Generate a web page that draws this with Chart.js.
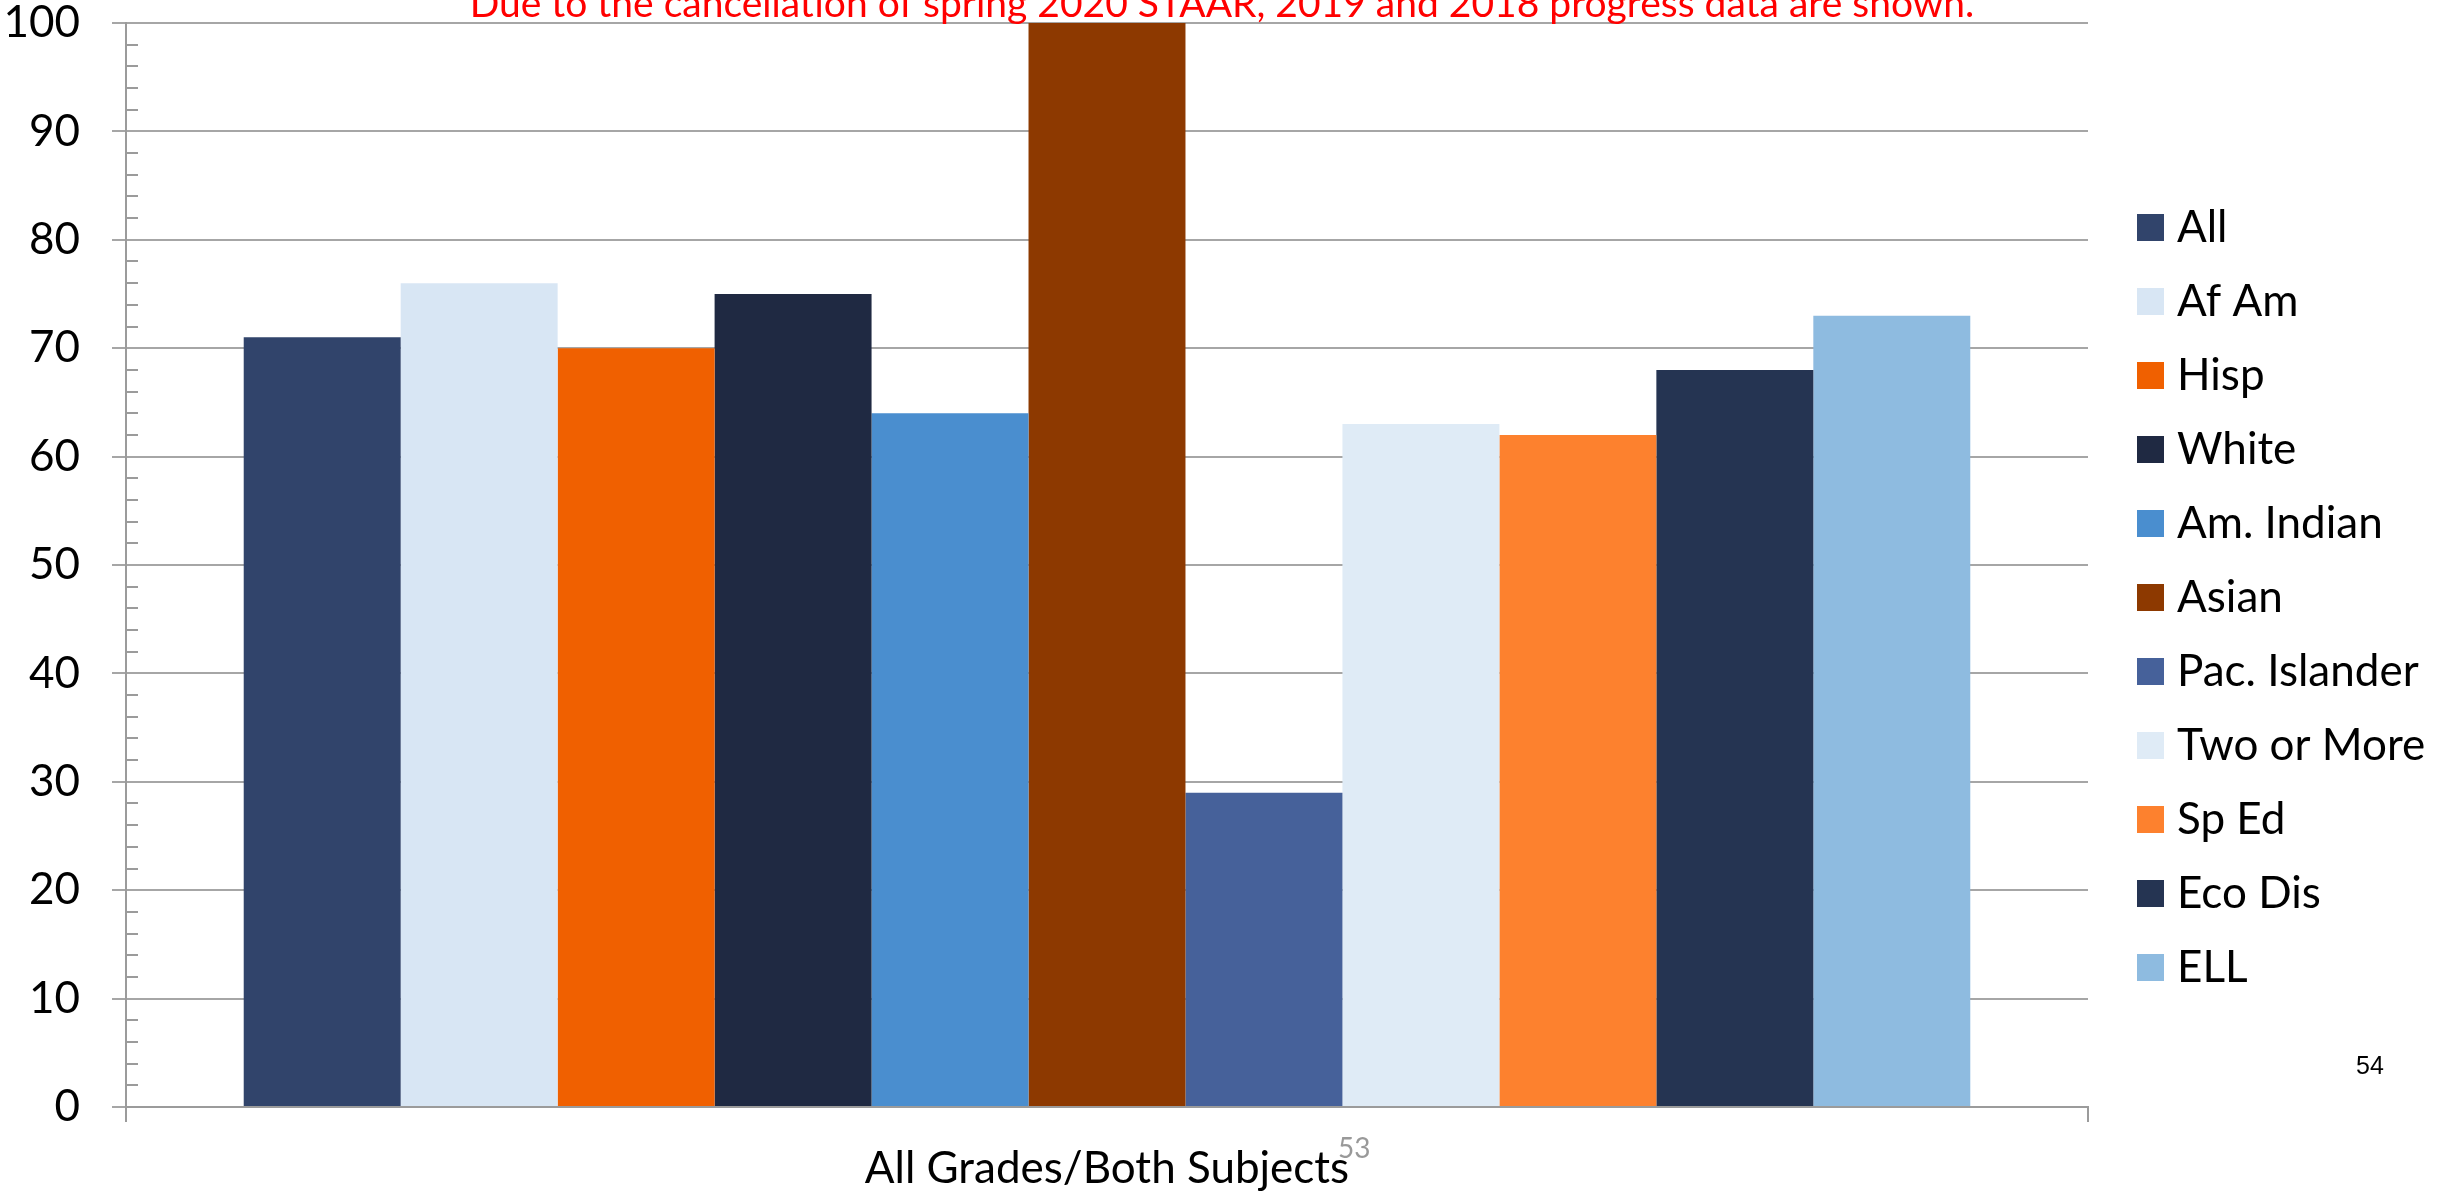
<!DOCTYPE html>
<html>
<head>
<meta charset="utf-8">
<script src="https://cdn.jsdelivr.net/npm/chart.js@4/dist/chart.umd.min.js"></script>
<style>
  html, body { margin: 0; padding: 0; background: #ffffff; }
  #wrap { width: 2453px; height: 1192px; position: relative; }
</style>
</head>
<body>
<div id="wrap"><canvas id="c" width="2453" height="1192"></canvas></div>
<script>
const categories = ["All Grades/Both Subjects"];
const seriesNames = ["All", "Af Am", "Hisp", "White", "Am. Indian", "Asian", "Pac. Islander", "Two or More", "Sp Ed", "Eco Dis", "ELL"];
const seriesValues = [71, 76, 70, 75, 64, 100, 29, 63, 62, 68, 73];
const seriesColors = ["#31446B", "#D8E6F4", "#F06000", "#1F2942", "#4A8ECF", "#8D3900", "#46619A", "#DFEBF6", "#FD812E", "#253452", "#8EBBE0"];
const yTicks = [0, 10, 20, 30, 40, 50, 60, 70, 80, 90, 100];
const noteText = "Due to the cancellation of spring 2020 STAAR, 2019 and 2018 progress data are shown.";
const slideNumA = "53";
const slideNumB = "54";

const datasets = seriesNames.map((name, i) => ({
  label: name,
  data: [seriesValues[i]],
  backgroundColor: seriesColors[i],
  borderWidth: 0,
  barPercentage: 1.0,
  categoryPercentage: 0.88
}));

const overlayPlugin = {
  id: 'overlay',
  afterDatasetsDraw(chart) {
    const ctx = chart.ctx;
    const y = chart.scales.y;
    const area = chart.chartArea;
    ctx.save();
    ctx.strokeStyle = '#9b9b9b';
    ctx.lineWidth = 2;
    for (let v = 0; v <= 100; v += 2) {
      if (v % 10 === 0) continue;
      const py = Math.round(y.getPixelForValue(v));
      ctx.beginPath();
      ctx.moveTo(area.left, py);
      ctx.lineTo(area.left + 12, py);
      ctx.stroke();
    }
    ctx.restore();
  },
  afterDraw(chart) {
    const ctx = chart.ctx;
    ctx.save();
    ctx.fillStyle = '#FF0000';
    ctx.font = '39px Lato';
    ctx.textAlign = 'center';
    ctx.textBaseline = 'alphabetic';
    ctx.fillText(noteText, 1222, 17);
    const ds = chart.data.datasets;
    const x0 = 2137, y0 = 227, step = 74;
    ds.forEach((d, i) => {
      const cy = y0 + i * step;
      ctx.fillStyle = d.backgroundColor;
      ctx.fillRect(x0, Math.round(cy - 13.5), 27, 27);
      ctx.fillStyle = '#000000';
      ctx.font = '44px Lato';
      ctx.textAlign = 'left';
      ctx.textBaseline = 'middle';
      ctx.fillText(d.label, 2177, cy + 1);
    });
    ctx.fillStyle = '#999999';
    ctx.font = '28px Lato';
    ctx.textAlign = 'left';
    ctx.textBaseline = 'alphabetic';
    ctx.fillText(slideNumA, 1338, 1158);
    ctx.fillStyle = '#000000';
    ctx.font = '25px "Liberation Sans"';
    ctx.fillText(slideNumB, 2356, 1074);
    ctx.restore();
  }
};

new Chart(document.getElementById('c'), {
  type: 'bar',
  data: { labels: categories, datasets: datasets },
  options: {
    responsive: false,
    animation: false,
    devicePixelRatio: 1,
    layout: { padding: { left: 0, top: 23, right: 365, bottom: 0 } },
    plugins: { legend: { display: false }, title: { display: false }, tooltip: { enabled: false } },
    scales: {
      x: {
        offset: true,
        grid: { display: true, drawOnChartArea: false, offset: true, tickLength: 15, color: '#9b9b9b', lineWidth: 2 },
        border: { display: true, color: '#9b9b9b', width: 2 },
        ticks: { color: '#000000', font: { family: 'Lato', size: 44 }, padding: 20 },
        afterFit(scale) { scale.height = 85; scale.paddingLeft = 0; scale.paddingRight = 0; }
      },
      y: {
        min: 0, max: 100,
        afterBuildTicks(scale) { scale.ticks = yTicks.map(v => ({ value: v })); },
        grid: { color: '#a6a6a6', lineWidth: 2, tickLength: 14 },
        border: { display: true, color: '#9b9b9b', width: 2 },
        ticks: { color: '#000000', font: { family: 'Lato', size: 44 }, padding: 32 },
        afterFit(scale) { scale.width = 126; scale.paddingTop = 0; scale.paddingBottom = 0; }
      }
    }
  },
  plugins: [overlayPlugin]
});
</script>
</body>
</html>
